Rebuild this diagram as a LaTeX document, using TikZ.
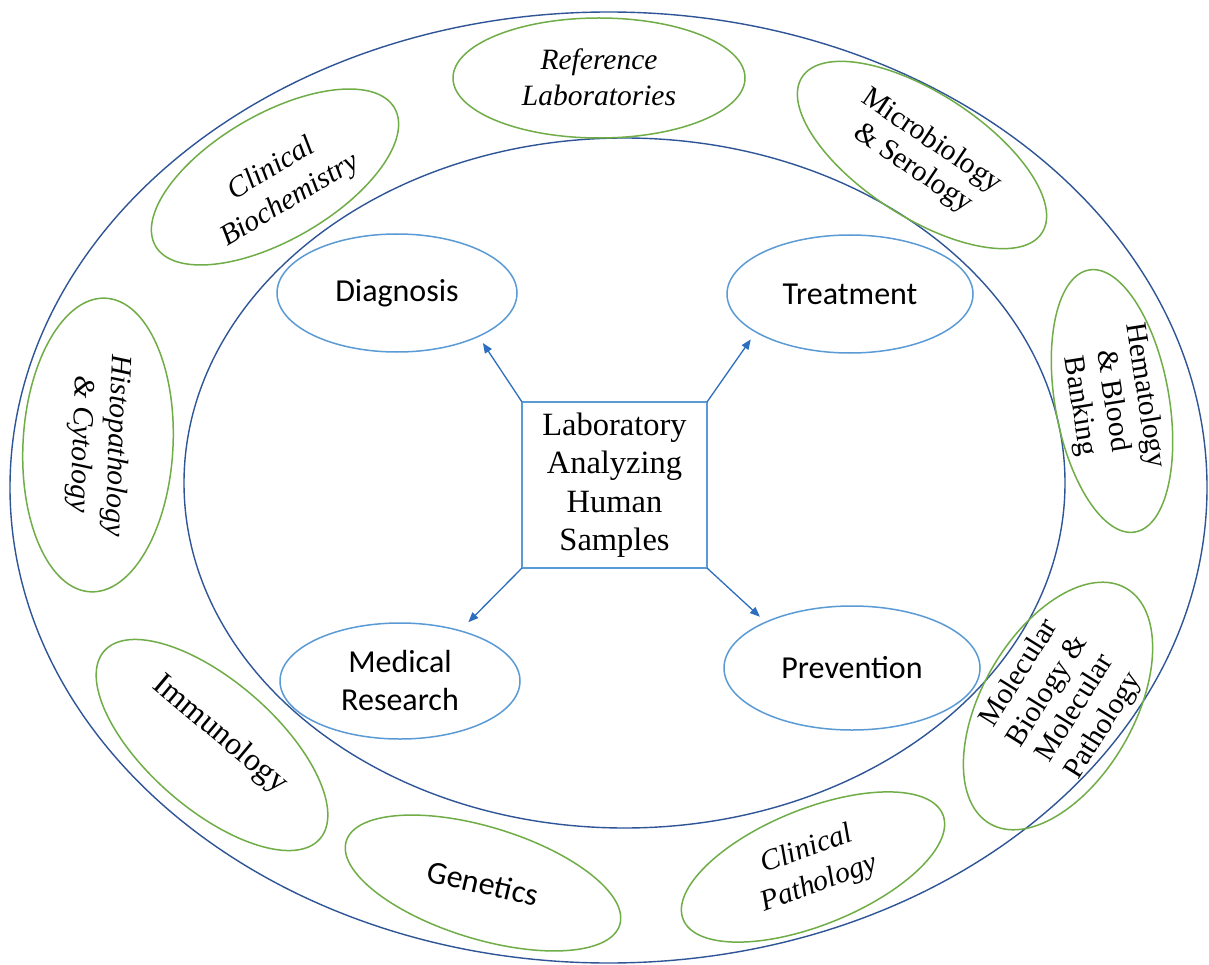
\documentclass[tikz,border=0pt]{standalone}
\usepackage{fontspec}
\setmainfont{Liberation Serif}
\newfontfamily\calibrifont{Carlito}
\usetikzlibrary{shapes.geometric,arrows.meta}
\definecolor{dblue}{RGB}{47,85,151}
\definecolor{lblue}{RGB}{91,155,213}
\definecolor{lgreen}{RGB}{112,173,71}
\definecolor{arrblue}{RGB}{46,110,190}
\tikzset{
  ring/.style={ellipse, draw=dblue, line width=1.4pt, inner sep=0pt, outer sep=0pt},
  gell/.style={ellipse, draw=lgreen, line width=1.5pt, inner sep=0pt, outer sep=0pt},
  bell/.style={ellipse, draw=lblue, line width=1.5pt, inner sep=0pt, outer sep=0pt},
  sanstxt/.style={font=\calibrifont\fontsize{32}{38}\selectfont, align=center, inner sep=0pt},
  ittxt/.style={font=\itshape\fontsize{29.5}{36}\selectfont, align=center, inner sep=0pt},
  uptxt/.style={font=\fontsize{29.5}{33}\selectfont, align=center, inner sep=0pt},
  arr/.style={draw=arrblue, line width=1.3pt, -{Triangle[length=10pt,width=8pt]}}
}
\begin{document}
\begin{tikzpicture}[x=1pt,y=-1pt]
\fill[white] (0,0) rectangle (1209,965);
\useasboundingbox (0,0) rectangle (1209,965);
% rings
\node[ring, minimum width=1197pt, minimum height=951pt] (outer) at (608.5,487.5) {};
\node[ring, minimum width=881pt, minimum height=690pt] (inner) at (624.5,483) {};
% green ellipses
\node[gell, minimum width=292pt, minimum height=120pt] (ref) at (599,78) {};
\node[ittxt] (refT) at ([yshift=1pt]ref.center) {Reference\\Laboratories};
\node[gell, minimum width=276pt, minimum height=126pt, rotate=30] (bio) at (275,177) {};
\node[ittxt, rotate=31] (bioT) at ([xshift=6pt,yshift=-8pt]bio.center) {Clinical\\Biochemistry};
\node[gell, minimum width=286pt, minimum height=124pt, rotate=-33] (micro) at (922,155) {};
\node[uptxt, rotate=-34] (microT) at (micro) {Microbiology\\\& Serology};
\node[gell, minimum width=266pt, minimum height=114pt, rotate=-80] (hema) at (1112,401) {};
\node[uptxt, rotate=-81] (hemaT) at (hema) {Hematology\\\& Blood\\Banking};
\node[gell, minimum width=272pt, minimum height=152pt, rotate=60] (mol) at (1058,706) {};
\node[uptxt, rotate=58] (molT) at ([xshift=4pt,yshift=6pt]mol.center) {Molecular\\Biology \&\\Molecular\\Pathology};
\node[gell, minimum width=280pt, minimum height=116pt, rotate=22] (cpath) at (813,867) {};
\node[ittxt, rotate=20] (cpathT) at (cpath) {Clinical\\Pathology};
\node[gell, minimum width=286pt, minimum height=112pt, rotate=-17] (gen) at (483,883) {};
\node[sanstxt, rotate=-13] (genT) at (gen) {Genetics};
\node[gell, minimum width=286pt, minimum height=128pt, rotate=-41] (imm) at (212,745) {};
\node[uptxt, font=\fontsize{32}{36}\selectfont, rotate=-40] (immT) at ([xshift=8pt,yshift=10pt]imm.center) {Immunology};
\node[gell, minimum width=294pt, minimum height=150pt, rotate=-93] (histo) at (98,445) {};
\node[ittxt, rotate=-92] (histoT) at (histo) {Histopathology\\\& Cytology};
% blue ellipses
\node[bell, minimum width=240pt, minimum height=118pt] (diag) at (397,293) {};
\node[sanstxt] (diagT) at (diag) {Diagnosis};
\node[bell, minimum width=246pt, minimum height=118pt] (treat) at (850,294) {};
\node[sanstxt] (treatT) at (treat) {Treatment};
\node[bell, minimum width=240pt, minimum height=116pt] (medres) at (400,681) {};
\node[sanstxt] (medresT) at (medres) {Medical\\Research};
\node[bell, minimum width=256pt, minimum height=124pt] (prev) at (852,668) {};
\node[sanstxt] (prevT) at (prev) {Prevention};
% center box
\node[draw=lblue, line width=1.5pt, minimum width=185pt, minimum height=166pt, inner sep=0pt, outer sep=0pt, align=center, font=\fontsize{32.5}{38.5}\selectfont] (box) at (614.5,485) {Laboratory\\Analyzing\\Human\\Samples};
% arrows
\draw[arr, shorten >=8pt] (box.north west) -- (diag.-28);
\draw[arr, shorten >=9pt] (box.north east) -- (treat.202);
\draw[arr, shorten >=12pt] (box.south west) -- (medres.40);
\draw[arr, shorten >=8pt] (box.south east) -- (prev.152);
\end{tikzpicture}
\end{document}
